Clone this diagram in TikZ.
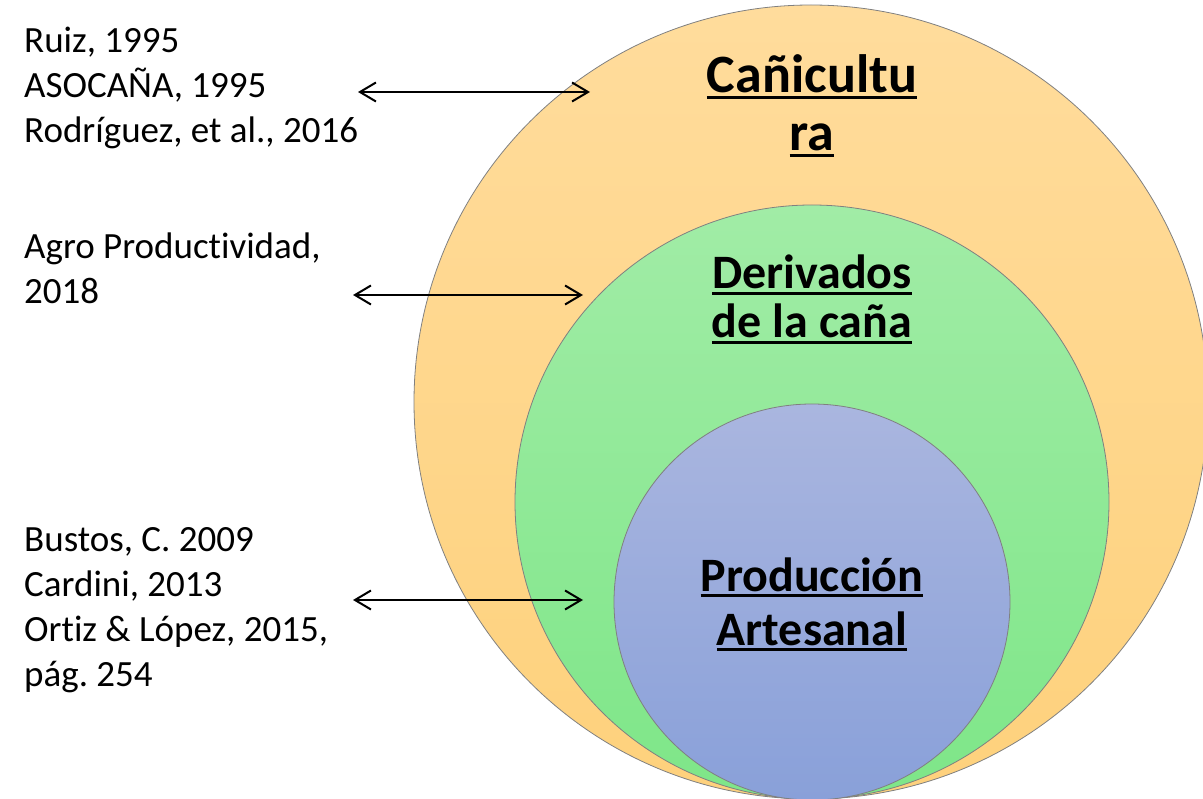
\documentclass[tikz,border=0pt]{standalone}
\usepackage{fontspec}
\setmainfont{Carlito}[Ligatures=NoCommon]
\usepackage{tikz}
\usetikzlibrary{arrows.meta, positioning}
\frenchspacing

\newcommand{\ulin}[1]{\setbox0\hbox{#1}\rlap{\rule[-6pt]{\wd0}{3pt}}\box0}

\tikzset{
  cita/.style={anchor=base west, inner sep=0pt, align=left, font=\fontsize{37}{45}\selectfont},
  titulo/.style={anchor=base, inner sep=0pt, align=center},
  flecha/.style={{Straight Barb[length=16pt,width=19pt]}-{Straight Barb[length=16pt,width=19pt]}, line width=2pt},
  aro/.style={draw={rgb,255:red,128;green,128;blue,128}, line width=0.8pt}
}

\begin{document}
\begin{tikzpicture}[x=1pt,y=-1pt]
\useasboundingbox (0,0) rectangle (1203,799);
% circles
\shadedraw [aro, top color={rgb,255:red,255;green,220;blue,156}, bottom color={rgb,255:red,254;green,209;blue,124}] (811,402) circle [radius=397];
\shadedraw [aro, top color={rgb,255:red,161;green,236;blue,166}, bottom color={rgb,255:red,126;green,230;blue,136}] (812,502) circle [radius=297];
\shadedraw [aro, top color={rgb,255:red,170;green,182;blue,223}, bottom color={rgb,255:red,137;green,160;blue,217}] (812,602) circle [radius=198];
% titles
\node [titulo, font=\fontsize{54}{58}\selectfont\bfseries] (cani) at (812,151) {\ulin{Cañicultu}\\\ulin{ra}};
\node [titulo, font=\fontsize{48}{49}\selectfont\bfseries] (deri) at (812,338) {\ulin{Derivados}\\\ulin{de la caña}};
\node [titulo, font=\fontsize{48}{54}\selectfont\bfseries] (prod) at (812,645) {\ulin{Producción}\\\ulin{Artesanal}};
% Text Node
\node [cita] (ref1) at (24,143) {Ruiz, 1995\\ASOCAÑA, 1995\\Rodríguez, et al., 2016};
% Text Node
\node [cita] (ref2) at (24,304) {Agro Productividad,\\2018};
% Text Node
\node [cita] (ref3) at (24,686) {Bustos, C. 2009\\Cardini, 2013\\Ortiz \& López, 2015,\\pág. 254};
% arrows
\coordinate (a1) at (358,92);
\coordinate (b1) at (590,92);
\coordinate (a2) at (353,295);
\coordinate (b2) at (583,295);
\coordinate (a3) at (353,600);
\coordinate (b3) at (583,600);
\draw [flecha] (a1) -- (b1);
\draw [flecha] (a2) -- (b2);
\draw [flecha] (a3) -- (b3);
\end{tikzpicture}
\end{document}
